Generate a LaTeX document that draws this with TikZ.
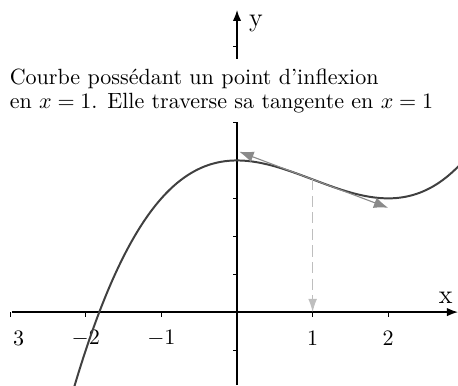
\documentclass[tikz,border=0pt]{standalone}
\usetikzlibrary{arrows.meta}
\definecolor{curvegray}{HTML}{404040}
\definecolor{tangray}{HTML}{8A8A8A}
\definecolor{guidegray}{HTML}{BEBEBE}
\newcommand{\eqsp}{\hspace{2.6pt}}
\begin{document}
\begin{tikzpicture}[x=34.32pt,y=17.21pt,
  axisline/.style={line width=0.65pt,-{Latex[length=5pt,width=3.8pt]}},
  tickmark/.style={line width=0.4pt},
  curveline/.style={line width=0.9pt,draw=curvegray},
  tangline/.style={line width=0.5pt,draw=tangray,-{Latex[length=6.5pt,width=5pt]}},
  guideline/.style={line width=0.5pt,draw=guidegray,dash pattern=on 5pt off 2.5pt,-{Latex[length=6pt,width=4pt]}},
  ticklabel/.style={inner sep=1pt},
  axislabel/.style={font=\large,inner sep=0pt}]
\useasboundingbox (-3.135,-1.926) rectangle (2.923,8.232);
% axes
\coordinate (xs) at (-2.97,0);
\coordinate (xe) at (2.923,0);
\coordinate (ys) at (0,-1.926);
\coordinate (ye) at (0,7.97);
\draw[axisline] (xs) -- (xe);
\draw[axisline] (ys) -- (ye);
\foreach \t in {-3,-2,-1,1,2} \draw[tickmark] (\t,0) -- ++(0,-2pt);
\foreach \t in {-1,1,2,3,4,5,6,7} \draw[tickmark] (0,\t) -- ++(-2pt,0);
% tick labels
\node[ticklabel] (l3) at (-2.89,-0.69) {3};
\node[ticklabel] (lm2) at (-2,-0.69) {$-2$};
\node[ticklabel] (lm1) at (-1,-0.69) {$-1$};
\node[ticklabel] (l1) at (1,-0.69) {1};
\node[ticklabel] (l2) at (2,-0.69) {2};
\node[axislabel] (xlab) at (2.76,0.39) {x};
\node[axislabel] (ylab) at (0.25,7.62) {y};
% caption
\node[fill=white,align=left,anchor=north west,inner xsep=1pt,inner ysep=0pt,
      font=\fontsize{10}{10.9}\selectfont] (cap) at (-3.04,6.70)
  {\rule{0pt}{11.9pt}Courbe possédant un point d’inflexion\\
   en $x$\eqsp=\eqsp1. Elle traverse sa tangente en $x$\eqsp=\eqsp1\rule[-5.8pt]{0pt}{0pt}};
% curve
\begin{scope}
\clip (-3.135,-1.926) rectangle (2.923,8.232);
\draw[curveline] plot[domain=-2.3:3,samples=120,smooth] (\x,{(\x*\x*\x-3*\x*\x)/4+4});
\end{scope}
% tangent and guide
\coordinate (ip) at (1,3.5);
\coordinate (tl) at (0.03,4.23);
\coordinate (tr) at (2.0,2.75);
\coordinate (foot) at (1,0);
\draw[tangline] (ip) -- (tl);
\draw[tangline] (ip) -- (tr);
\draw[guideline] (ip) -- (foot);
\end{tikzpicture}
\end{document}
